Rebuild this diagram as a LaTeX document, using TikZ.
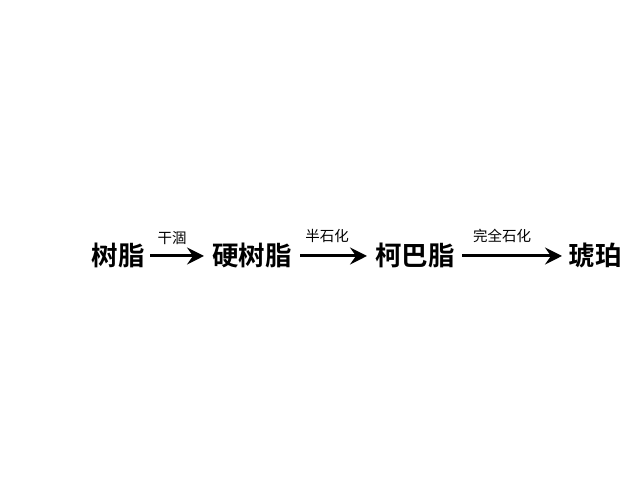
\documentclass[tikz,border=0pt]{standalone}
\usepackage{fontspec}
\newfontfamily\cjkbold{Noto Sans CJK SC Bold}
\newfontfamily\cjk{Noto Sans CJK SC}
\usetikzlibrary{arrows.meta}
\begin{document}
\begin{tikzpicture}[x=1pt,y=1pt,
  stage/.style={inner sep=0pt, font=\cjkbold\fontsize{26.5}{26.5}\selectfont},
  lbl/.style={inner sep=0pt, font=\cjk\fontsize{14.5}{14.5}\selectfont},
  conv/.style={line width=3pt, -{Stealth[length=17pt,width=17pt,inset=6pt]}}]
\useasboundingbox (0,0) rectangle (638,500);
\node[stage] (a) at (118,245) {树脂};
\node[stage] (b) at (252,245) {硬树脂};
\node[stage] (c) at (415,245) {柯巴脂};
\node[stage] (d) at (595,245) {琥珀};
\coordinate (a1) at (150,244);
\coordinate (a2) at (204,244);
\coordinate (b1) at (300,244);
\coordinate (b2) at (367,244);
\coordinate (c1) at (462,244);
\coordinate (c2) at (562,244);
\draw[conv] (a1) -- (a2);
\draw[conv] (b1) -- (b2);
\draw[conv] (c1) -- (c2);
\node[lbl] (la) at (172,262) {干涸};
\node[lbl] (lb) at (327,264) {半石化};
\node[lbl] (lc) at (502,264) {完全石化};
\end{tikzpicture}
\end{document}
